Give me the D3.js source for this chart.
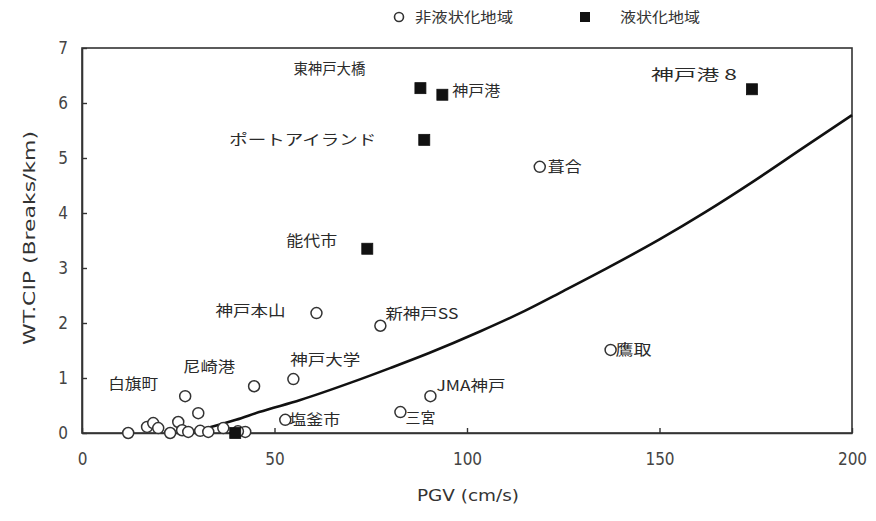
<!DOCTYPE html>
<html><head><meta charset="utf-8">
<script src="https://cdn.jsdelivr.net/npm/d3@7/dist/d3.min.js"></script>
<style>body{margin:0;background:#fff}svg{display:block}text{font-family:"Noto Sans CJK JP","Noto Sans",sans-serif}</style>
</head><body><svg id="c" width="876" height="521"></svg>
<script>
// Liquefied sites (filled squares)
const liqNames = ["東神戸大橋","神戸港","ポートアイランド","神戸港 8","能代市",""];
const liqPGV   = [87.9, 93.6, 88.9, 174.0, 74.1, 39.8];
const liqCIP   = [6.27, 6.15, 5.33, 6.25, 3.35, 0.0];
// Non-liquefied sites (open circles)
const nonNames = ["葺合","神戸本山","新神戸SS","鷹取","神戸大学","JMA神戸","三宮","塩釜市","尼崎港","白旗町",
                  "","","","","","","","","","","","","",""];
const nonPGV   = [118.9, 60.9, 77.5, 137.3, 54.9, 90.5, 82.7, 52.8, 44.7, 26.8,
                  12.0, 16.9, 18.5, 19.8, 22.9, 25.0, 26.0, 27.6, 30.2, 30.7, 32.8, 36.7, 42.4, 40.5];
const nonCIP   = [4.84, 2.18, 1.95, 1.51, 0.98, 0.67, 0.38, 0.24, 0.85, 0.67,
                  0.0, 0.11, 0.18, 0.09, 0.0, 0.2, 0.05, 0.02, 0.36, 0.04, 0.02, 0.09, 0.02, 0.03];
// Fitted curve
const curvePGV = [27, 33, 40, 46, 56.7, 70, 80, 90, 103.5, 115, 125, 137, 150, 162, 174.5, 187, 200];
const curveCIP = [0, 0.1, 0.24, 0.38, 0.6, 0.92, 1.18, 1.45, 1.85, 2.22, 2.58, 3.02, 3.52, 4.02, 4.58, 5.17, 5.78];
const xTicks = [0, 50, 100, 150, 200];
const yTicks = [0, 1, 2, 3, 4, 5, 6, 7];
const legendLabels = ["非液状化地域", "液状化地域"];

// label placements (offsets in px from the point, and text width)
const liqLabelPos = {"東神戸大橋":[-127,-19,72],"神戸港":[10,-4,48],"ポートアイランド":[-195,0,147],"神戸港 8":[-101,-14,86],"能代市":[-81,-8,51]};
const nonLabelPos = {"葺合":[8,0,34],"神戸本山":[-101,-2,70],"新神戸SS":[5,-12,73],"鷹取":[5,0,36],"神戸大学":[-3,-19,70],
  "JMA神戸":[6,-10,69],"三宮":[5,6,30],"塩釜市":[4,0,51],"尼崎港":[-71,-19,52],"白旗町":[-77,-12,50]};

const svg = d3.select("#c");
const x = d3.scaleLinear().domain([0, 200]).range([82, 852]);
const y = d3.scaleLinear().domain([0, 7]).range([433, 48]);
const axisCol = "#333";
const numFont = "'DejaVu Sans Condensed','Liberation Sans',sans-serif";

// frame
svg.append("rect").attr("x", x(0)).attr("y", y(7)).attr("width", x(200) - x(0)).attr("height", y(0) - y(7))
  .attr("fill", "none").attr("stroke", axisCol).attr("stroke-width", 1.6);

// axes with inward ticks
const gx = svg.append("g").attr("transform", `translate(0,${y(0)})`)
  .call(d3.axisBottom(x).tickValues(xTicks).tickFormat(d3.format("d")).tickSizeInner(-5).tickSizeOuter(0).tickPadding(20));
const gy = svg.append("g").attr("transform", `translate(${x(0)},0)`)
  .call(d3.axisLeft(y).tickValues(yTicks).tickFormat(d3.format("d")).tickSizeInner(-5).tickSizeOuter(0).tickPadding(19));
[gx, gy].forEach(g => {
  g.select(".domain").attr("stroke", axisCol).attr("stroke-width", 1.6);
  g.selectAll(".tick line").attr("stroke", axisCol).attr("stroke-width", 1.4);
  g.selectAll(".tick text").attr("fill", "#444").style("font-size", "17px").style("font-family", numFont);
});
gy.selectAll(".tick text").attr("text-anchor", "middle");

// axis titles
svg.append("text").attr("x", 468).attr("y", 501).attr("text-anchor", "middle").attr("fill", "#333")
  .attr("textLength", 102).attr("lengthAdjust", "spacingAndGlyphs")
  .style("font-size", "16px").style("font-family", numFont).text("PGV (cm/s)");
svg.append("text").attr("transform", "translate(35,238) rotate(-90)").attr("text-anchor", "middle")
  .attr("fill", "#333").attr("textLength", 214).attr("lengthAdjust", "spacingAndGlyphs")
  .style("font-size", "16px").style("font-family", numFont).text("WT.CIP (Breaks/km)");

// curve
const curveData = curvePGV.map((v, i) => [v, curveCIP[i]]);
svg.append("path").datum(curveData)
  .attr("d", d3.line().x(d => x(d[0])).y(d => y(d[1])).curve(d3.curveMonotoneX))
  .attr("fill", "none").attr("stroke", "#111").attr("stroke-width", 2.6);

// non-liquefied circles
const nonData = nonPGV.map((v, i) => ({v, c: nonCIP[i], n: nonNames[i]}));
svg.append("g").selectAll("circle").data(nonData).join("circle")
  .attr("cx", d => x(d.v)).attr("cy", d => y(d.c)).attr("r", 5.5)
  .attr("fill", "#fff").attr("stroke", "#333").attr("stroke-width", 1.5);

// liquefied squares
const liqData = liqPGV.map((v, i) => ({v, c: liqCIP[i], n: liqNames[i]}));
svg.append("g").selectAll("rect").data(liqData).join("rect")
  .attr("x", d => x(d.v) - 5.5).attr("y", d => y(d.c) - 5.5).attr("width", 11).attr("height", 11)
  .attr("fill", "#111").attr("stroke", "#111").attr("stroke-width", 0.8);

// labels
function addLabels(data, pos) {
  svg.append("g").selectAll("text").data(data.filter(d => d.n)).join("text")
    .attr("x", d => x(d.v) + pos[d.n][0]).attr("y", d => y(d.c) + pos[d.n][1] + 5)
    .attr("textLength", d => pos[d.n][2]).attr("lengthAdjust", "spacingAndGlyphs")
    .attr("font-size", 14.5).attr("fill", "#2a2a2a").text(d => d.n);
}
addLabels(liqData, liqLabelPos);
addLabels(nonData, nonLabelPos);

// legend
const lg = svg.append("g");
lg.append("circle").attr("cx", 399).attr("cy", 17).attr("r", 4.5).attr("fill", "#fff").attr("stroke", "#333").attr("stroke-width", 1.6);
lg.append("text").attr("x", 415).attr("y", 22).attr("font-size", 14).attr("fill", "#333")
  .attr("textLength", 98).attr("lengthAdjust", "spacingAndGlyphs").text(legendLabels[0]);
lg.append("rect").attr("x", 580).attr("y", 12).attr("width", 10).attr("height", 10).attr("fill", "#111");
lg.append("text").attr("x", 620).attr("y", 22).attr("font-size", 14).attr("fill", "#333")
  .attr("textLength", 80).attr("lengthAdjust", "spacingAndGlyphs").text(legendLabels[1]);
</script></body></html>
